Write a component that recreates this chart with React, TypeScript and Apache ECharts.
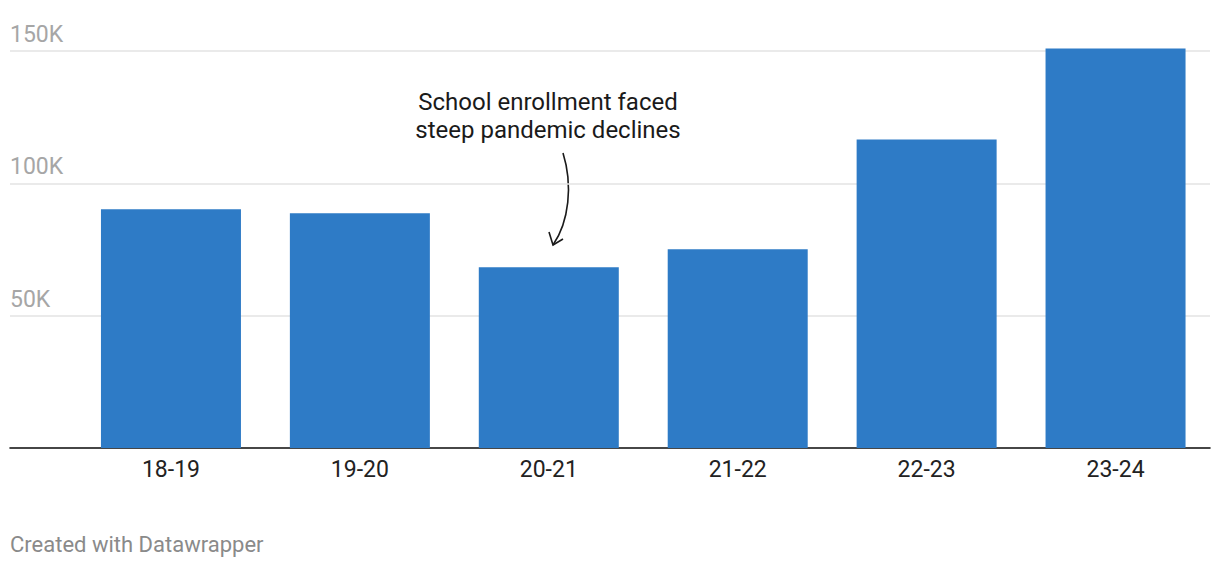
import React, { useEffect, useRef } from "react";
import * as echarts from "echarts";

const categories = ["18-19", "19-20", "20-21", "21-22", "22-23", "23-24"];
const enrollment = [90200, 88700, 68300, 75100, 116600, 150900];
const yTicks = [0, 50000, 100000, 150000];
const annotationLines = ["School enrollment faced", "steep pandemic declines"];
const footer = "Created with Datawrapper";

export default function App() {
  const ref = useRef<HTMLDivElement>(null);
  useEffect(() => {
    if (!ref.current) return;
    document.body.style.margin = "0";
    const chart = echarts.init(ref.current, null, { renderer: "svg" });
    const font = "Roboto, 'Noto Sans', sans-serif";
    chart.setOption({
      animation: false,
      textStyle: { fontFamily: font },
      grid: [
        { left: 10, right: 10, top: 51, bottom: 120 },
        { left: 76.5, right: 10, top: 51, bottom: 120 },
      ],
      xAxis: [
        {
          gridIndex: 0,
          type: "value",
          min: 0,
          max: 1,
          axisLine: { show: true, onZero: false, lineStyle: { color: "#111", width: 1.6 } },
          axisTick: { show: false },
          axisLabel: { show: false },
          splitLine: { show: false },
        },
        {
          gridIndex: 1,
          type: "category",
          data: categories,
          axisLine: { show: false },
          axisTick: { show: false },
          axisLabel: { color: "#222", fontSize: 23, margin: 10, fontFamily: font },
        },
      ],
      yAxis: [
        {
          gridIndex: 0,
          type: "value",
          min: yTicks[0],
          max: yTicks[yTicks.length - 1],
          interval: yTicks[1] - yTicks[0],
          axisLine: { show: false },
          axisTick: { show: false },
          splitLine: { lineStyle: { color: "#e3e3e3", width: 1.5 } },
          axisLabel: {
            inside: true,
            verticalAlign: "bottom",
            padding: [0, 0, 5, 0],
            margin: 0,
            color: "#a6a6a6",
            fontSize: 23,
            fontFamily: font,
            formatter: (v: number) => (v === 0 ? "" : v / 1000 + "K"),
          },
        },
        {
          gridIndex: 1,
          type: "value",
          min: yTicks[0],
          max: yTicks[yTicks.length - 1],
          show: false,
          splitLine: { show: false },
        },
      ],
      series: [
        {
          type: "bar",
          xAxisIndex: 1,
          yAxisIndex: 1,
          data: enrollment,
          barWidth: 140,
          clip: false,
          itemStyle: { color: "#2e7bc6" },
        },
      ],
      graphic: [
        {
          type: "text",
          x: 548,
          y: 88,
          style: {
            text: annotationLines.join("\n"),
            font: `24px ${font}`,
            fill: "#1a1a1a",
            align: "center",
            lineHeight: 28,
          },
        },
        {
          type: "bezierCurve",
          shape: { x1: 563, y1: 153, cpx1: 573, cpy1: 185, cpx2: 569, cpy2: 222, x2: 553, y2: 245 },
          style: { stroke: "#1a1a1a", lineWidth: 1.6, fill: "none" },
        },
        {
          type: "polyline",
          shape: { points: [[549, 232], [553, 245], [563, 239]] },
          style: { stroke: "#1a1a1a", lineWidth: 1.6, fill: "none" },
        },
        {
          type: "text",
          x: 10,
          y: 533,
          style: { text: footer, font: `22px ${font}`, fill: "#8a8a8a" },
        },
      ],
    });
    return () => chart.dispose();
  }, []);
  return <div ref={ref} style={{ width: 1220, height: 568 }} />;
}
